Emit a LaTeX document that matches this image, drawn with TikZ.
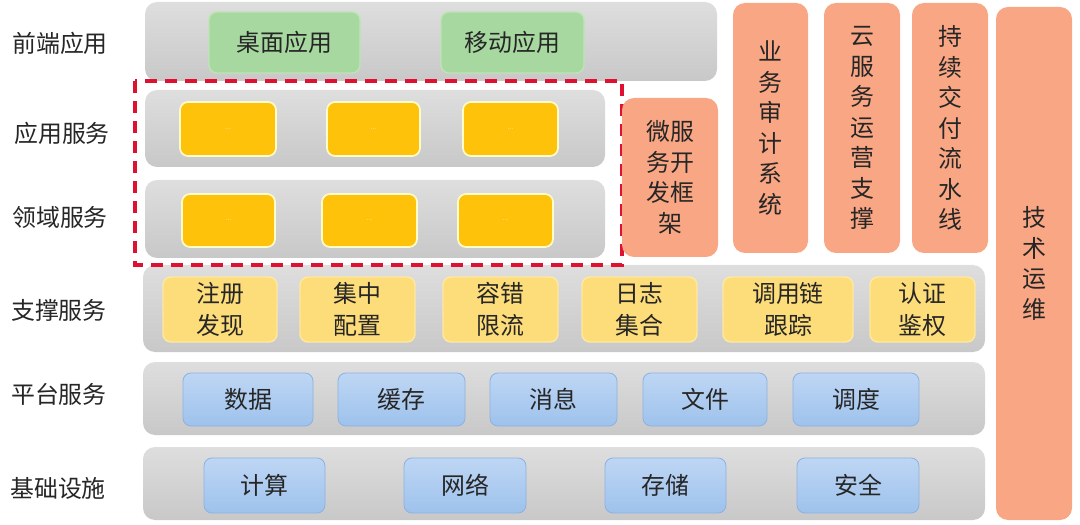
\documentclass[tikz,border=0pt]{standalone}
\usepackage{fontspec}
\setmainfont{Noto Sans CJK SC}
\definecolor{barhi}{RGB}{222,222,222}
\definecolor{barlo}{RGB}{200,200,200}
\definecolor{greenfill}{RGB}{166,216,160}
\definecolor{greenedge}{RGB}{190,228,182}
\definecolor{ambfill}{RGB}{255,194,10}
\definecolor{supfill}{RGB}{253,220,122}
\definecolor{supedge}{RGB}{255,232,160}
\definecolor{bluehi}{RGB}{190,214,244}
\definecolor{bluelo}{RGB}{158,194,236}
\definecolor{blueedge}{RGB}{140,178,226}
\definecolor{orfill}{RGB}{248,166,132}
\definecolor{dashred}{RGB}{224,16,48}

\begin{document}
\begin{tikzpicture}[x=0.025cm, y=-0.025cm,
	every node/.style={font=\fontsize{17}{21}\selectfont, text=black!85},
	layer/.style={draw=none, top color=barhi, bottom color=barlo, rounded corners=0.3cm},
	appbox/.style={fill=greenfill, draw=greenedge, line width=1pt, rounded corners=0.2cm},
	svcbox/.style={fill=ambfill, draw=white!80!yellow, line width=1.2pt, rounded corners=0.2cm},
	supbox/.style={fill=supfill, draw=supedge, line width=1pt, rounded corners=0.2cm},
	basebox/.style={top color=bluehi, bottom color=bluelo, draw=blueedge, line width=0.6pt, rounded corners=0.2cm},
	vbox/.style={draw=none, fill=orfill, rounded corners=0.3cm},
	dots/.style={font=\tiny, text=white!75!ambfill},
	twoline/.style={align=center, font=\fontsize{17}{22.7}\selectfont},
	vtext/.style={align=center, font=\fontsize{17}{21.7}\selectfont}]
	\useasboundingbox (0,0) rectangle (1080,525);
	% row labels
	\node (lfront) at (60,43) {前端应用};
	\node (lapp) at (62,133) {应用服务};
	\node (ldom) at (60,217) {领域服务};
	\node (lsup) at (59,310) {支撑服务};
	\node (lplat) at (59,394) {平台服务};
	\node (linfra) at (58,488) {基础设施};
	% layers
	\path[layer] (145,2) rectangle (717,81);
	\path[layer] (145,90) rectangle (605,167);
	\path[layer] (145,180) rectangle (605,258);
	\path[layer] (143,265) rectangle (985,352);
	\path[layer] (143,362) rectangle (985,435);
	\path[layer] (143,447) rectangle (985,520);
	% front end
	\draw[appbox] (209,12) rectangle (360,73) node[midway] (desk) {桌面应用};
	\draw[appbox] (441,12) rectangle (584,73) node[midway] (mobile) {移动应用};
	% application and domain services
	\draw[svcbox] (180,102) rectangle (276,156) node[midway, dots] (app1) {...};
	\draw[svcbox] (327,102) rectangle (420,156) node[midway, dots] (app2) {...};
	\draw[svcbox] (463,102) rectangle (558,156) node[midway, dots] (app3) {...};
	\draw[svcbox] (182,194) rectangle (275,247) node[midway, dots] (dom1) {...};
	\draw[svcbox] (322,194) rectangle (417,247) node[midway, dots] (dom2) {...};
	\draw[svcbox] (458,194) rectangle (553,247) node[midway, dots] (dom3) {...};
	\draw[dashred, line width=2.2pt, dash pattern=on 0.3cm off 0.2cm] (135,81) rectangle (622,265);
	% side columns
	\path[vbox] (622,98) rectangle (718,257) node[midway, vtext] (msf) {微服\\务开\\发框\\架};
	\path[vbox] (733,3) rectangle (808,253) node[midway, vtext] (audit) {业\\务\\审\\计\\系\\统};
	\path[vbox] (824,3) rectangle (900,253) node[midway, vtext] (cloud) {云\\服\\务\\运\\营\\支\\撑};
	\path[vbox] (912,3) rectangle (988,253) node[midway, vtext] (cd) {持\\续\\交\\付\\流\\水\\线};
	\path[vbox] (996,7) rectangle (1072,520) node[midway, vtext] (ops) {技\\术\\运\\维};
	% support services
	\draw[supbox] (163,277) rectangle (277,342) node[midway, twoline] (reg) {注册\\发现};
	\draw[supbox] (300,277) rectangle (415,342) node[midway, twoline] (conf) {集中\\配置};
	\draw[supbox] (443,277) rectangle (558,342) node[midway, twoline] (ft) {容错\\限流};
	\draw[supbox] (582,277) rectangle (697,342) node[midway, twoline] (logs) {日志\\集合};
	\draw[supbox] (723,277) rectangle (853,342) node[midway, twoline] (trace) {调用链\\跟踪};
	\draw[supbox] (870,277) rectangle (975,342) node[midway, twoline] (auth) {认证\\鉴权};
	% platform services
	\draw[basebox] (183,373) rectangle (313,426) node[midway] (data) {数据};
	\draw[basebox] (338,373) rectangle (465,426) node[midway] (cache) {缓存};
	\draw[basebox] (490,373) rectangle (617,426) node[midway] (msg) {消息};
	\draw[basebox] (643,373) rectangle (767,426) node[midway] (file) {文件};
	\draw[basebox] (793,373) rectangle (919,426) node[midway] (sched) {调度};
	% infrastructure
	\draw[basebox] (204,458) rectangle (325,513) node[midway] (comp) {计算};
	\draw[basebox] (404,458) rectangle (526,513) node[midway] (net) {网络};
	\draw[basebox] (605,458) rectangle (726,513) node[midway] (store) {存储};
	\draw[basebox] (797,458) rectangle (919,513) node[midway] (sec) {安全};
\end{tikzpicture}
\end{document}
